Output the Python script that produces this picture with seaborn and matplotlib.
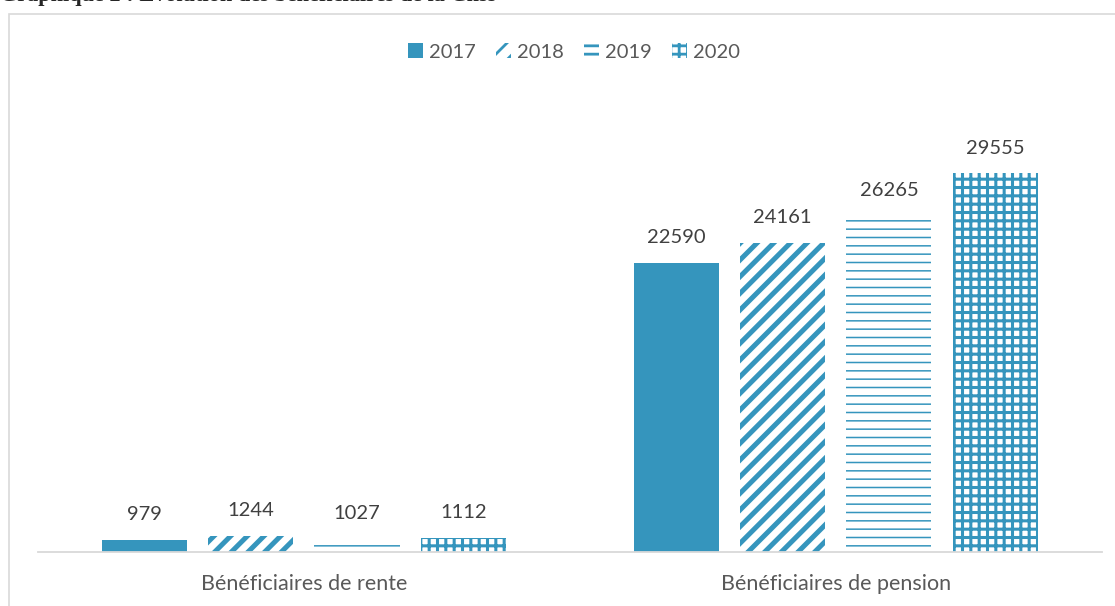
import pandas as pd
import numpy as np
import seaborn as sns
import matplotlib.pyplot as plt
from matplotlib.patches import Patch, Rectangle

categories = ['Bénéficiaires de rente', 'Bénéficiaires de pension']
years = ['2017', '2018', '2019', '2020']
values_2017 = [979, 22590]
values_2018 = [1244, 24161]
values_2019 = [1027, 26265]
values_2020 = [1112, 29555]

rows = []
for y, vals in zip(years, [values_2017, values_2018, values_2019, values_2020]):
    for c, v in zip(categories, vals):
        rows.append({'categorie': c, 'annee': y, 'valeur': v})
df = pd.DataFrame(rows)

blue = '#3595BD'
hatches = {'2017': None, '2018': '//', '2019': '--', '2020': '++'}
hatch_lw = {'2017': 1.0, '2018': 3.6, '2019': 1.1, '2020': 2.2}

sns.set_theme(style='white')
plt.rcParams['font.family'] = ['Lato', 'DejaVu Sans']
plt.rcParams['hatch.linewidth'] = 2.0

fig = plt.figure(figsize=(11.15, 6.06), dpi=100)
ax = fig.add_axes([0.034, 0.089, 0.954, 0.74])

sns.barplot(data=df, x='categorie', y='valeur', hue='annee', palette=[blue] * 4,
            width=0.8, gap=0.2, saturation=1, legend=False, ax=ax)


def style_patch(p, yr):
    if hatches[yr]:
        p.set_facecolor('white')
        p.set_edgecolor(blue)
        p.set_hatch(hatches[yr])
        if hasattr(p, 'set_hatch_linewidth'):
            p.set_hatch_linewidth(hatch_lw[yr])
    else:
        p.set_facecolor(blue)
        p.set_edgecolor(blue)
    p.set_linewidth(0)


for cont, yr in zip(ax.containers, years):
    for bar in cont:
        style_patch(bar, yr)
    ax.bar_label(cont, labels=[str(int(v)) for v in cont.datavalues],
                 padding=12, fontsize=14.5, color='#404040')

ax.set_ylim(0, 35000)
ax.set_xlim(-0.5, 1.5)
ax.set_xlabel('')
ax.set_ylabel('')
ax.set_yticks([])
for s in ['top', 'right', 'left']:
    ax.spines[s].set_visible(False)
ax.spines['bottom'].set_color('#D9D9D9')
ax.spines['bottom'].set_linewidth(1.3)
ax.tick_params(axis='x', length=0, pad=16, labelsize=15.5, labelcolor='#595959')

handles = []
for yr in years:
    h = Patch(label=yr)
    style_patch(h, yr)
    handles.append(h)
fig.legend(handles=handles, loc='center', bbox_to_anchor=(0.515, 0.914), ncol=4,
           frameon=False, fontsize=14.5, handlelength=0.75, handleheight=0.75,
           handletextpad=0.3, columnspacing=1.0, labelcolor='#595959')

# cadre du graphique
fig.patches.append(Rectangle((9 / 1115, -0.1), 1.2, 1 - 14 / 606 + 0.1,
                             transform=fig.transFigure, fill=False,
                             edgecolor='#D9D9D9', linewidth=1.2))

# titre coupé en haut, comme dans l'original
fig.text(0.0, 1 - 1 / 606, 'Graphique 2 : Evolution des bénéficiaires de la Cnss',
         family='Liberation Serif', weight='bold', fontsize=16, va='baseline', ha='left')

fig.savefig('out.png', dpi=100)
